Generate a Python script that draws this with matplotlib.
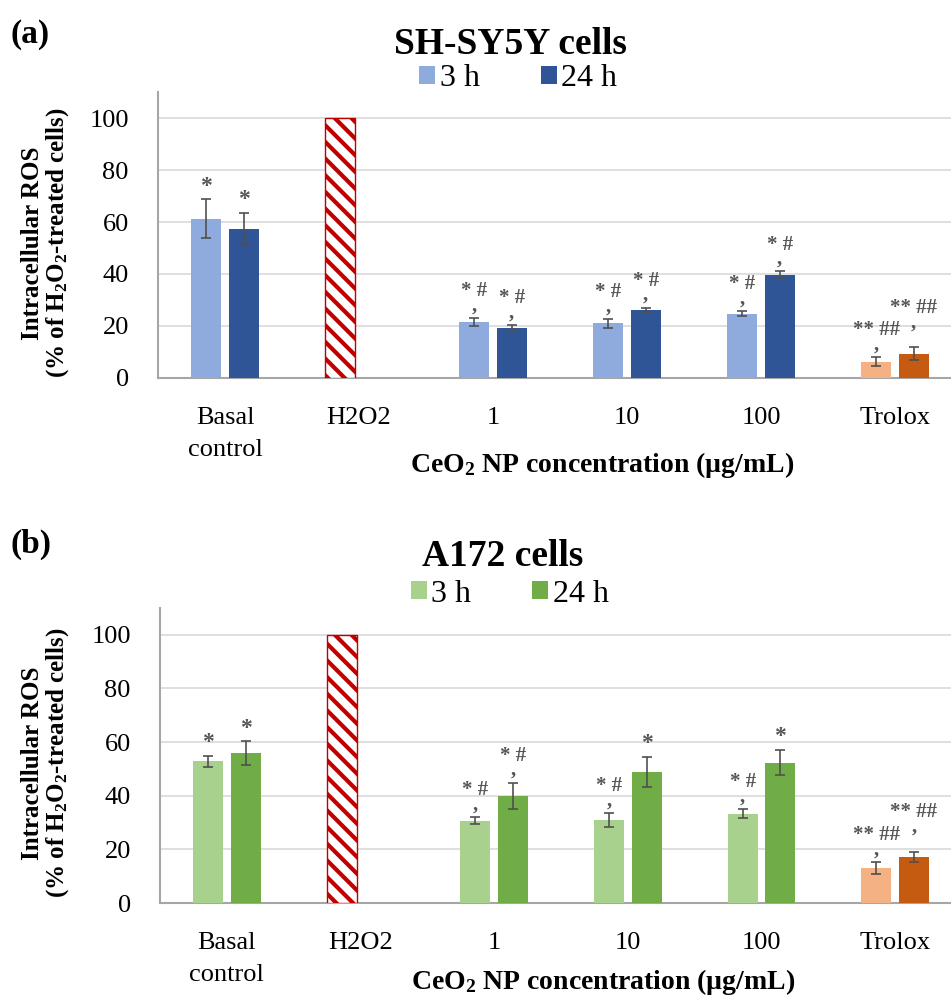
import matplotlib
matplotlib.use('Agg')
import matplotlib.pyplot as plt
import numpy as np
from matplotlib.patches import Patch

plt.rcParams['font.family'] = ['Liberation Serif', 'DejaVu Serif']
plt.rcParams['mathtext.default'] = 'regular'
plt.rcParams['hatch.linewidth'] = 3.0

# data
categories = ["Basal\ncontrol", "H2O2", "1", "10", "100", "Trolox"]

sh_3h = [61.3, 100, 21.5, 21.0, 24.8, 6.3]
sh_3h_err = [7.5, 0, 1.5, 1.6, 1.0, 1.8]
sh_24h = [57.5, np.nan, 19.2, 26.3, 39.8, 9.4]
sh_24h_err = [6.0, 0, 1.3, 0.8, 1.2, 2.5]
sh_3h_marks = ["*", "", "* #", "* #", "* #", "** ##"]
sh_24h_marks = ["*", "", "* #", "* #", "* #", "** ##"]

a172_3h = [52.8, 100, 30.6, 31.0, 33.3, 13.1]
a172_3h_err = [2.0, 0, 1.3, 2.5, 1.6, 2.2]
a172_24h = [55.8, np.nan, 39.9, 48.9, 52.3, 17.3]
a172_24h_err = [4.5, 0, 5.0, 5.6, 4.7, 1.9]
a172_3h_marks = ["*", "", "* #", "* #", "* #", "** ##"]
a172_24h_marks = ["*", "", "* #", "*", "*", "** ##"]

series_labels = ["3 h", "24 h"]

W = 0.224
OFF = 0.14
MARK_COL = '#555555'
ERR_COL = '#505050'


def put_mark(ax, xi, y, m):
    if '#' in m:
        # "* #" with the comma under it, as in the source figure
        ax.text(xi, y, m + "\n,", ha='center', va='bottom', fontsize=15,
                fontweight='bold', color=MARK_COL, linespacing=0.62)
    else:
        ax.text(xi, y, m, ha='center', va='bottom', fontsize=17,
                fontweight='bold', color=MARK_COL)


def draw_panel(ax, v3, e3, v24, e24, m3, m24, c3, c24):
    x = np.arange(len(categories))
    cols3 = [c3] * 5 + ['#F4B183']
    cols24 = [c24] * 5 + ['#C55A11']
    b3 = ax.bar(x - OFF, v3, W, color=cols3, linewidth=0, zorder=3)
    ax.bar(x + OFF, v24, W, color=cols24, linewidth=0, zorder=3)
    h = b3[1]
    h.set_facecolor('white')
    h.set_edgecolor('#C00000')
    h.set_hatch('\\\\')
    h.set_linewidth(1)

    for xs, vals, errs in [(x - OFF, v3, e3), (x + OFF, v24, e24)]:
        for xi, v, e in zip(xs, vals, errs):
            if e > 0:
                ax.errorbar(xi, v, yerr=e, fmt='none', ecolor=ERR_COL,
                            elinewidth=1.2, capsize=3.5, capthick=1.2, zorder=4)

    for i in range(len(categories)):
        y3 = v3[i] + e3[i] + 1.0
        y24 = v24[i] + e24[i] + 1.0
        # wide labels of neighbouring bars are stacked so they do not collide
        if '##' in m3[i] and '##' in m24[i]:
            y24 = max(y24, y3 + 8.5)
        if m3[i]:
            put_mark(ax, x[i] - OFF, y3, m3[i])
        if m24[i]:
            put_mark(ax, x[i] + OFF, y24, m24[i])

    ax.set_xlim(-0.5, 5.5)
    ax.set_ylim(0, 110)
    ax.set_yticks(range(0, 101, 20))
    ax.set_xticks(x)
    ax.set_xticklabels(categories, fontsize=19, linespacing=1.6)
    ax.tick_params(axis='y', length=0, pad=21, labelsize=19)
    ax.tick_params(axis='x', length=0, pad=21)
    ax.grid(axis='y', color='#D9D9D9', linewidth=1.2, zorder=0)
    ax.set_axisbelow(True)
    for s in ['top', 'right']:
        ax.spines[s].set_visible(False)
    ax.spines['left'].set_color('#A6A6A6')
    ax.spines['left'].set_linewidth(1.5)
    ax.spines['bottom'].set_color('#A6A6A6')
    ax.spines['bottom'].set_linewidth(1.5)


fig = plt.figure(figsize=(9.51, 10), dpi=100)

ax1 = fig.add_axes([158 / 951, 1 - 378 / 1000, 804 / 951, 286 / 1000])
draw_panel(ax1, sh_3h, sh_3h_err, sh_24h, sh_24h_err, sh_3h_marks, sh_24h_marks,
           '#8FAADC', '#2F5597')
ax2 = fig.add_axes([160 / 951, 1 - 903 / 1000, 802 / 951, 295 / 1000])
draw_panel(ax2, a172_3h, a172_3h_err, a172_24h, a172_24h_err, a172_3h_marks,
           a172_24h_marks, '#A9D18E', '#70AD47')

ylab = "Intracellular ROS\n(% of H$_2$O$_2$-treated cells)"
xlab = "CeO$_2$ NP concentration (µg/mL)"

for ax, tag, tag_y, title, title_x, title_y, leg_x, leg_y, lab_y, xl_y, c3, c24 in [
        (ax1, "(a)", 0.966, "SH-SY5Y cells", 0.537, 0.956, 0.545, 0.921, 0.757, -0.304,
         '#8FAADC', '#2F5597'),
        (ax2, "(b)", 0.456, "A172 cells", 0.529, 0.444, 0.536, 0.406, 0.237, -0.268,
         '#A9D18E', '#70AD47')]:
    fig.text(0.011, tag_y, tag, fontsize=24, fontweight='bold', ha='left', va='center')
    fig.text(title_x, title_y, title, fontsize=27, fontweight='bold', ha='center',
             va='center')
    handles = [Patch(facecolor=c3), Patch(facecolor=c24)]
    fig.legend(handles, series_labels, loc='center', bbox_to_anchor=(leg_x, leg_y),
               ncol=2, frameon=False, fontsize=23, handlelength=0.5, handleheight=0.5,
               handletextpad=0.15, columnspacing=1.9, borderpad=0)
    fig.text(46 / 951, lab_y, ylab, rotation=90, fontsize=18, fontweight='bold',
             ha='center', va='center', linespacing=1.05)
    ax.text(0.552, xl_y, xlab, transform=ax.transAxes, fontsize=20,
            fontweight='bold', ha='center', va='center')

fig.savefig('out.png', dpi=100)
